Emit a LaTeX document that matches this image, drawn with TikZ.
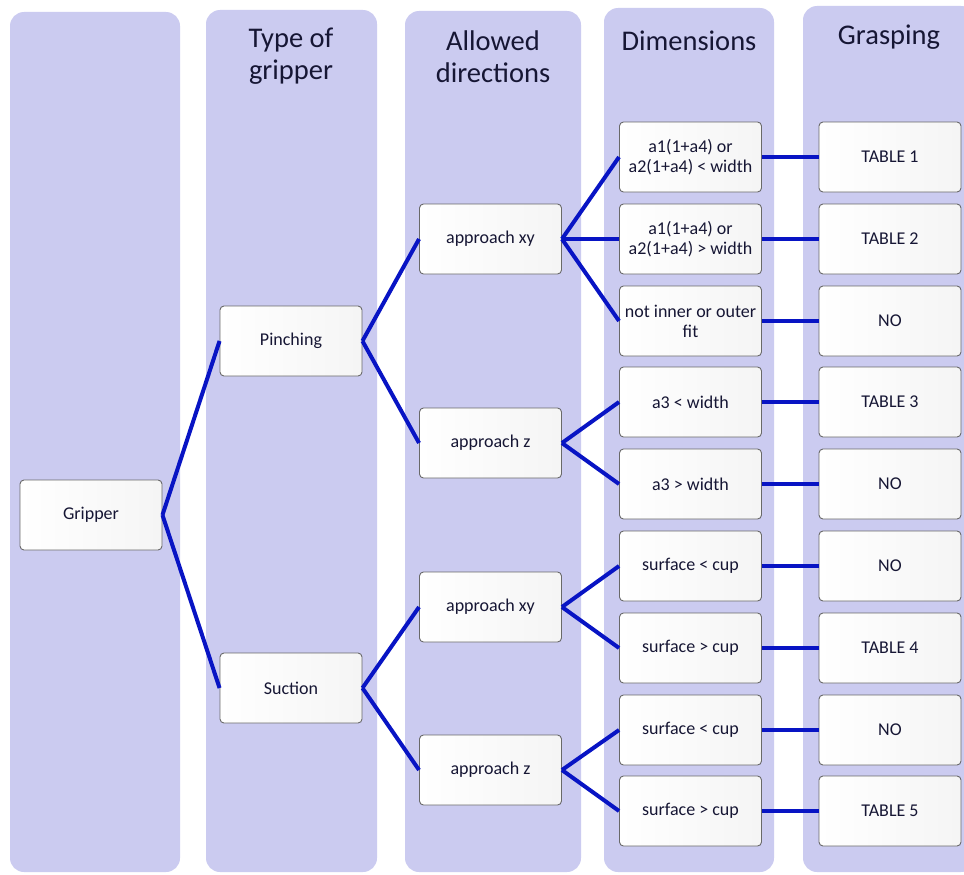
\documentclass[tikz,border=0pt]{standalone}
\usepackage{fontspec}
\setmainfont{Carlito}
\definecolor{colbg}{RGB}{203,203,240}
\definecolor{edgeblue}{RGB}{8,20,196}
\definecolor{boxline}{RGB}{105,105,105}
\definecolor{txt}{RGB}{22,22,52}
\begin{document}
\begin{tikzpicture}[x=1pt,y=-1pt,
  column/.style={fill=colbg, rounded corners=14pt},
  box/.style={draw=boxline, line width=0.9pt, rounded corners=4pt,
    left color=white, right color=black!4,
    minimum width=142pt, minimum height=70pt, inner sep=0pt, align=center,
    font=\fontsize{18}{20}\selectfont, text=txt},
  header/.style={align=center, font=\fontsize{28.5}{32}\selectfont, text=txt},
  link/.style={draw=edgeblue, line width=4pt}]
\useasboundingbox (0,0) rectangle (964,875);
% columns
\fill[column] (10,12) rectangle (180,872);
\fill[column] (206,10) rectangle (377,872);
\fill[column] (405,11) rectangle (581,872);
\fill[column] (604,8) rectangle (774,872);
\fill[column] (803,6) rectangle (975,872);
% headers
\node[header] (h2) at (291,56) {Type of\\gripper};
\node[header] (h3) at (493,57) {Allowed\\directions};
\node[header] (h4) at (689,41) {Dimensions};
\node[header] (h5) at (889,37) {Grasping};
% nodes
\node[box] (g) at (91,515) {Gripper};
\node[box] (p) at (291,341) {Pinching};
\node[box] (s) at (291,688) {Suction};
\node[box] (axy1) at (490.5,239) {approach xy};
\node[box] (az1) at (490.5,443) {approach z};
\node[box] (axy2) at (490.5,607) {approach xy};
\node[box] (az2) at (490.5,770) {approach z};
\node[box] (d1) at (690.5,157) {a1(1+a4) or\\a2(1+a4) < width};
\node[box] (d2) at (690.5,239) {a1(1+a4) or\\a2(1+a4) > width};
\node[box] (d3) at (690.5,321) {not inner or outer\\fit};
\node[box] (d4) at (690.5,402) {a3 < width};
\node[box] (d5) at (690.5,484) {a3 > width};
\node[box] (d6) at (690.5,566) {surface < cup};
\node[box] (d7) at (690.5,648) {surface > cup};
\node[box] (d8) at (690.5,730) {surface < cup};
\node[box] (d9) at (690.5,811) {surface > cup};
\node[box] (t1) at (890,157) {TABLE 1};
\node[box] (t2) at (890,239) {TABLE 2};
\node[box] (t3) at (890,321) {NO};
\node[box] (t4) at (890,402) {TABLE 3};
\node[box] (t5) at (890,484) {NO};
\node[box] (t6) at (890,566) {NO};
\node[box] (t7) at (890,648) {TABLE 4};
\node[box] (t8) at (890,730) {NO};
\node[box] (t9) at (890,811) {TABLE 5};
% connectors
\draw[link] (g.east) -- (p.west);
\draw[link] (g.east) -- (s.west);
\draw[link] (p.east) -- (axy1.west);
\draw[link] (p.east) -- (az1.west);
\draw[link] (s.east) -- (axy2.west);
\draw[link] (s.east) -- (az2.west);
\draw[link] (axy1.east) -- (d1.west);
\draw[link] (axy1.east) -- (d2.west);
\draw[link] (axy1.east) -- (d3.west);
\draw[link] (az1.east) -- (d4.west);
\draw[link] (az1.east) -- (d5.west);
\draw[link] (axy2.east) -- (d6.west);
\draw[link] (axy2.east) -- (d7.west);
\draw[link] (az2.east) -- (d8.west);
\draw[link] (az2.east) -- (d9.west);
\foreach \i in {1,...,9} {\draw[link] (d\i.east) -- (t\i.west);}
\end{tikzpicture}
\end{document}
